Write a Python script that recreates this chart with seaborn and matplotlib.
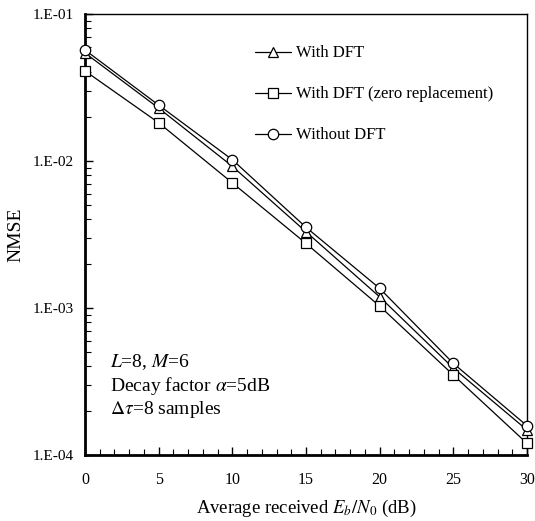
import numpy as np
import pandas as pd
import matplotlib
matplotlib.use("Agg")
import matplotlib.pyplot as plt
import matplotlib.ticker as mticker
import seaborn as sns

snr_db = [0, 5, 10, 15, 20, 25, 30]
with_dft = [0.0543, 0.0229, 0.0092, 0.0033, 0.00119, 0.00039, 0.000148]
with_dft_zero = [0.041, 0.0182, 0.0071, 0.00275, 0.00103, 0.00035, 0.00012]
without_dft = [0.0569, 0.024, 0.0102, 0.00354, 0.00136, 0.00042, 0.000158]
series_labels = ["With DFT", "With DFT (zero replacement)", "Without DFT"]
series_markers = ["^", "s", "o"]
ytick_vals = [1e-4, 1e-3, 1e-2, 1e-1]
ytick_labels = ["1.E-04", "1.E-03", "1.E-02", "1.E-01"]
xtick_vals = [0, 5, 10, 15, 20, 25, 30]

sns.set_theme(style="white")
plt.rcParams["font.family"] = ["Liberation Serif", "DejaVu Serif"]
plt.rcParams["mathtext.fontset"] = "stix"

fig = plt.figure(figsize=(5.35, 5.21), dpi=100)
ax = fig.add_axes([85/535, 1 - 455/521, (527 - 85)/535, (455 - 14)/521])

for vals, lab, mk in zip([with_dft, with_dft_zero, without_dft], series_labels, series_markers):
    df = pd.DataFrame({"x": snr_db, "y": vals})
    sns.lineplot(data=df, x="x", y="y", ax=ax, color="black", linewidth=0.9,
                 marker=mk, markersize=7.5, markerfacecolor="white",
                 markeredgecolor="black", markeredgewidth=0.9, label=lab,
                 clip_on=False, zorder=3)

ax.set_yscale("log")
ax.set_xlim(0, 30)
ax.set_ylim(1e-4, 1e-1)
ax.set_xticks(xtick_vals)
ax.set_xticklabels([str(v) for v in xtick_vals])
ax.xaxis.set_minor_locator(mticker.MultipleLocator(1))
ax.set_yticks(ytick_vals)
ax.set_yticklabels(ytick_labels)
ax.yaxis.set_minor_locator(mticker.LogLocator(base=10, subs=np.arange(2, 10)))
ax.yaxis.set_minor_formatter(mticker.NullFormatter())

ax.tick_params(axis="x", which="major", direction="in", length=6, width=1,
               labelsize=11.5, color="black", labelcolor="black", pad=12)
ax.tick_params(axis="y", which="major", direction="in", length=6, width=1,
               labelsize=11, color="black", labelcolor="black", pad=8)
ax.tick_params(axis="both", which="minor", direction="in", length=4, width=0.8,
               color="black")
ax.tick_params(axis="x", which="both", top=False, bottom=True)
ax.tick_params(axis="y", which="both", left=True, right=False)

for side in ["left", "bottom"]:
    ax.spines[side].set_linewidth(2.0)
    ax.spines[side].set_color("black")
for side in ["top", "right"]:
    ax.spines[side].set_linewidth(1.0)
    ax.spines[side].set_color("black")

ax.set_xlabel("Average received $E_b/N_0$ (dB)", fontsize=13.5, color="black", labelpad=7)
ax.set_ylabel("NMSE", fontsize=14, color="black", labelpad=6)

leg = ax.legend(loc="upper left", bbox_to_anchor=(0.369, 0.944), frameon=False,
                fontsize=12, handlelength=2.2, handletextpad=0.25, labelspacing=1.5,
                borderaxespad=0)
for t in leg.get_texts():
    t.set_color("black")

txt_kw = dict(transform=ax.transAxes, fontsize=14, color="black", va="center", ha="left")
ax.text(0.057, 1 - (362 - 14)/441, "$L$=8, $M$=6", **txt_kw)
ax.text(0.057, 1 - (386 - 14)/441, r"Decay factor $\alpha$=5dB", **txt_kw)
ax.text(0.057, 1 - (410 - 14)/441, r"$\Delta\tau$=8 samples", **txt_kw)

fig.savefig("out.png", dpi=100)
